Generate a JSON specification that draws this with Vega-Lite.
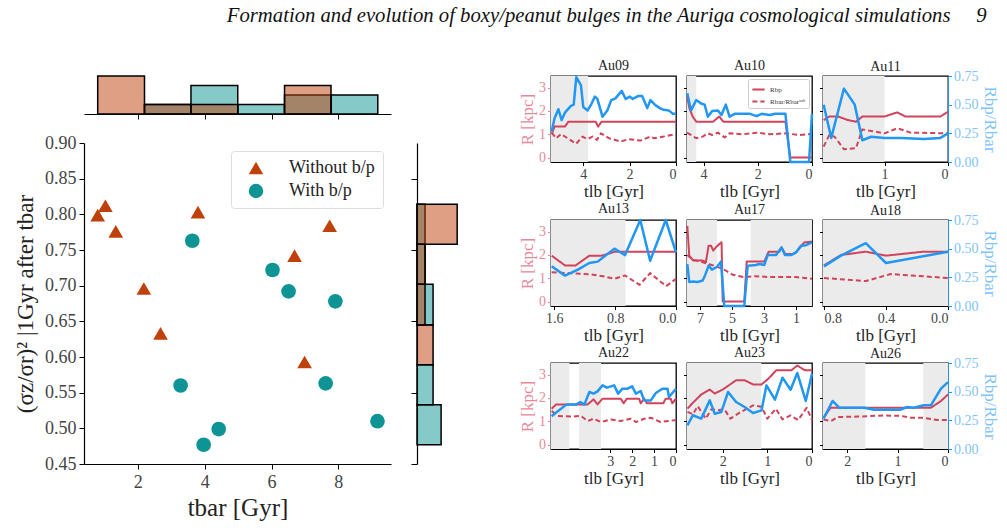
{
  "$schema": "https://vega.github.io/schema/vega-lite/v6.json",
  "padding": {"left": 14, "top": 4, "right": 5, "bottom": 5},
  "title": {
    "text": "Formation and evolution of boxy/peanut bulges in the Auriga cosmological simulations\u00a0\u00a0\u00a0\u00a0\u00a09",
    "font": "'Liberation Serif', 'Times New Roman', 'DejaVu Serif', serif",
    "fontStyle": "italic",
    "fontSize": 20.7,
    "fontWeight": "normal",
    "color": "#111",
    "anchor": "end",
    "dx": -12,
    "offset": 32
  },
  "datasets": {
    "pts": [
      {"t": 0.80, "s": 0.799, "g": "Without b/p"},
      {"t": 1.03, "s": 0.812, "g": "Without b/p"},
      {"t": 1.34, "s": 0.776, "g": "Without b/p"},
      {"t": 2.18, "s": 0.696, "g": "Without b/p"},
      {"t": 2.68, "s": 0.633, "g": "Without b/p"},
      {"t": 3.80, "s": 0.803, "g": "Without b/p"},
      {"t": 6.69, "s": 0.742, "g": "Without b/p"},
      {"t": 7.74, "s": 0.784, "g": "Without b/p"},
      {"t": 6.99, "s": 0.593, "g": "Without b/p"},
      {"t": 3.63, "s": 0.763, "g": "With b/p"},
      {"t": 6.03, "s": 0.722, "g": "With b/p"},
      {"t": 6.51, "s": 0.692, "g": "With b/p"},
      {"t": 7.91, "s": 0.678, "g": "With b/p"},
      {"t": 3.28, "s": 0.560, "g": "With b/p"},
      {"t": 7.62, "s": 0.563, "g": "With b/p"},
      {"t": 3.97, "s": 0.477, "g": "With b/p"},
      {"t": 4.42, "s": 0.499, "g": "With b/p"},
      {"t": 9.17, "s": 0.510, "g": "With b/p"}
    ],
    "hx": [
      {"g": "With b/p", "b0": 2.2, "b1": 3.59, "n": 1},
      {"g": "With b/p", "b0": 3.59, "b1": 4.99, "n": 3},
      {"g": "With b/p", "b0": 4.99, "b1": 6.39, "n": 1},
      {"g": "With b/p", "b0": 6.39, "b1": 7.78, "n": 2},
      {"g": "With b/p", "b0": 7.78, "b1": 9.18, "n": 2},
      {"g": "Without b/p", "b0": 0.8, "b1": 2.2, "n": 4},
      {"g": "Without b/p", "b0": 2.2, "b1": 3.59, "n": 1},
      {"g": "Without b/p", "b0": 3.59, "b1": 4.99, "n": 1},
      {"g": "Without b/p", "b0": 6.39, "b1": 7.78, "n": 3}
    ],
    "hy": [
      {"g": "With b/p", "b0": 0.477, "b1": 0.533, "n": 3},
      {"g": "With b/p", "b0": 0.533, "b1": 0.589, "n": 2},
      {"g": "With b/p", "b0": 0.645, "b1": 0.702, "n": 2},
      {"g": "With b/p", "b0": 0.702, "b1": 0.758, "n": 1},
      {"g": "With b/p", "b0": 0.758, "b1": 0.814, "n": 1},
      {"g": "Without b/p", "b0": 0.589, "b1": 0.645, "n": 2},
      {"g": "Without b/p", "b0": 0.645, "b1": 0.702, "n": 1},
      {"g": "Without b/p", "b0": 0.702, "b1": 0.758, "n": 1},
      {"g": "Without b/p", "b0": 0.758, "b1": 0.814, "n": 5}
    ],
    "sh": [
      {"p": "Au09", "a": 3.79, "b": 5.39},
      {"p": "Au10", "a": 4.27, "b": 4.61},
      {"p": "Au11", "a": 1.0, "b": 1.97},
      {"p": "Au13", "a": 0.664, "b": 1.644},
      {"p": "Au17", "a": 5.94, "b": 7.81},
      {"p": "Au17", "a": 0, "b": 3.83},
      {"p": "Au18", "a": 0, "b": 0.806},
      {"p": "Au22", "a": 4.86, "b": 5.70},
      {"p": "Au22", "a": 3.42, "b": 4.42},
      {"p": "Au23", "a": 1.135, "b": 2.8},
      {"p": "Au26", "a": 1.64, "b": 2.48},
      {"p": "Au26", "a": 0, "b": 0.49}
    ],
    "ev": [
      {"p": "Au09", "s": "Rbp", "t": 5.36, "y": 1.0},
      {"p": "Au09", "s": "Rbp", "t": 5.24, "y": 1.33},
      {"p": "Au09", "s": "Rbp", "t": 4.79, "y": 1.33},
      {"p": "Au09", "s": "Rbp", "t": 4.64, "y": 1.54},
      {"p": "Au09", "s": "Rbp", "t": 3.46, "y": 1.54},
      {"p": "Au09", "s": "Rbp", "t": 3.36, "y": 1.33},
      {"p": "Au09", "s": "Rbp", "t": 3.21, "y": 1.54},
      {"p": "Au09", "s": "Rbp", "t": 0, "y": 1.54},
      {"p": "Au09", "s": "Rbar/Rbarˢᵘᵇ", "t": 5.36, "y": 1.07},
      {"p": "Au09", "s": "Rbar/Rbarˢᵘᵇ", "t": 5.17, "y": 0.83},
      {"p": "Au09", "s": "Rbar/Rbarˢᵘᵇ", "t": 4.96, "y": 1.01},
      {"p": "Au09", "s": "Rbar/Rbarˢᵘᵇ", "t": 4.67, "y": 0.83},
      {"p": "Au09", "s": "Rbar/Rbarˢᵘᵇ", "t": 4.31, "y": 0.59},
      {"p": "Au09", "s": "Rbar/Rbarˢᵘᵇ", "t": 4.03, "y": 0.9},
      {"p": "Au09", "s": "Rbar/Rbarˢᵘᵇ", "t": 3.81, "y": 0.79},
      {"p": "Au09", "s": "Rbar/Rbarˢᵘᵇ", "t": 3.60, "y": 0.9},
      {"p": "Au09", "s": "Rbar/Rbarˢᵘᵇ", "t": 3.41, "y": 0.76},
      {"p": "Au09", "s": "Rbar/Rbarˢᵘᵇ", "t": 3.24, "y": 1.04},
      {"p": "Au09", "s": "Rbar/Rbarˢᵘᵇ", "t": 2.89, "y": 0.83},
      {"p": "Au09", "s": "Rbar/Rbarˢᵘᵇ", "t": 2.39, "y": 0.69},
      {"p": "Au09", "s": "Rbar/Rbarˢᵘᵇ", "t": 2.03, "y": 0.79},
      {"p": "Au09", "s": "Rbar/Rbarˢᵘᵇ", "t": 1.53, "y": 0.73},
      {"p": "Au09", "s": "Rbar/Rbarˢᵘᵇ", "t": 1.10, "y": 0.9},
      {"p": "Au09", "s": "Rbar/Rbarˢᵘᵇ", "t": 0.96, "y": 0.83},
      {"p": "Au09", "s": "Rbar/Rbarˢᵘᵇ", "t": 0.53, "y": 0.9},
      {"p": "Au09", "s": "Rbar/Rbarˢᵘᵇ", "t": 0, "y": 1.01},
      {"p": "Au09", "s": "ratio", "t": 5.36, "y": 0.265},
      {"p": "Au09", "s": "ratio", "t": 5.24, "y": 0.38},
      {"p": "Au09", "s": "ratio", "t": 5.07, "y": 0.46},
      {"p": "Au09", "s": "ratio", "t": 4.93, "y": 0.366},
      {"p": "Au09", "s": "ratio", "t": 4.79, "y": 0.43},
      {"p": "Au09", "s": "ratio", "t": 4.53, "y": 0.49},
      {"p": "Au09", "s": "ratio", "t": 4.41, "y": 0.50},
      {"p": "Au09", "s": "ratio", "t": 4.30, "y": 0.74},
      {"p": "Au09", "s": "ratio", "t": 4.10, "y": 0.67},
      {"p": "Au09", "s": "ratio", "t": 4.00, "y": 0.48},
      {"p": "Au09", "s": "ratio", "t": 3.81, "y": 0.45},
      {"p": "Au09", "s": "ratio", "t": 3.64, "y": 0.51},
      {"p": "Au09", "s": "ratio", "t": 3.50, "y": 0.57},
      {"p": "Au09", "s": "ratio", "t": 3.39, "y": 0.55},
      {"p": "Au09", "s": "ratio", "t": 3.17, "y": 0.395},
      {"p": "Au09", "s": "ratio", "t": 2.96, "y": 0.45},
      {"p": "Au09", "s": "ratio", "t": 2.79, "y": 0.54},
      {"p": "Au09", "s": "ratio", "t": 2.61, "y": 0.555},
      {"p": "Au09", "s": "ratio", "t": 2.34, "y": 0.62},
      {"p": "Au09", "s": "ratio", "t": 2.17, "y": 0.55},
      {"p": "Au09", "s": "ratio", "t": 1.99, "y": 0.57},
      {"p": "Au09", "s": "ratio", "t": 1.87, "y": 0.55},
      {"p": "Au09", "s": "ratio", "t": 1.64, "y": 0.575},
      {"p": "Au09", "s": "ratio", "t": 1.46, "y": 0.575},
      {"p": "Au09", "s": "ratio", "t": 1.24, "y": 0.47},
      {"p": "Au09", "s": "ratio", "t": 1.10, "y": 0.54},
      {"p": "Au09", "s": "ratio", "t": 0.91, "y": 0.50},
      {"p": "Au09", "s": "ratio", "t": 0.70, "y": 0.47},
      {"p": "Au09", "s": "ratio", "t": 0.53, "y": 0.455},
      {"p": "Au09", "s": "ratio", "t": 0.31, "y": 0.45},
      {"p": "Au09", "s": "ratio", "t": 0.13, "y": 0.42},
      {"p": "Au09", "s": "ratio", "t": 0, "y": 0.42},

      {"p": "Au10", "s": "Rbp", "t": 4.61, "y": 2.64},
      {"p": "Au10", "s": "Rbp", "t": 4.52, "y": 2.11},
      {"p": "Au10", "s": "Rbp", "t": 4.40, "y": 1.76},
      {"p": "Au10", "s": "Rbp", "t": 4.27, "y": 1.54},
      {"p": "Au10", "s": "Rbp", "t": 3.65, "y": 1.54},
      {"p": "Au10", "s": "Rbp", "t": 3.42, "y": 1.76},
      {"p": "Au10", "s": "Rbp", "t": 3.27, "y": 1.54},
      {"p": "Au10", "s": "Rbp", "t": 0.98, "y": 1.54},
      {"p": "Au10", "s": "Rbp", "t": 0.80, "y": 0},
      {"p": "Au10", "s": "Rbp", "t": 0, "y": 0},
      {"p": "Au10", "s": "Rbar/Rbarˢᵘᵇ", "t": 4.61, "y": 1.07},
      {"p": "Au10", "s": "Rbar/Rbarˢᵘᵇ", "t": 4.27, "y": 0.83},
      {"p": "Au10", "s": "Rbar/Rbarˢᵘᵇ", "t": 4.03, "y": 0.9},
      {"p": "Au10", "s": "Rbar/Rbarˢᵘᵇ", "t": 3.84, "y": 1.04},
      {"p": "Au10", "s": "Rbar/Rbarˢᵘᵇ", "t": 3.68, "y": 0.97},
      {"p": "Au10", "s": "Rbar/Rbarˢᵘᵇ", "t": 3.47, "y": 1.07},
      {"p": "Au10", "s": "Rbar/Rbarˢᵘᵇ", "t": 3.22, "y": 0.86},
      {"p": "Au10", "s": "Rbar/Rbarˢᵘᵇ", "t": 3.04, "y": 1.04},
      {"p": "Au10", "s": "Rbar/Rbarˢᵘᵇ", "t": 2.54, "y": 1.0},
      {"p": "Au10", "s": "Rbar/Rbarˢᵘᵇ", "t": 2.04, "y": 1.07},
      {"p": "Au10", "s": "Rbar/Rbarˢᵘᵇ", "t": 1.55, "y": 1.0},
      {"p": "Au10", "s": "Rbar/Rbarˢᵘᵇ", "t": 1.0, "y": 1.04},
      {"p": "Au10", "s": "Rbar/Rbarˢᵘᵇ", "t": 0.45, "y": 0.97},
      {"p": "Au10", "s": "Rbar/Rbarˢᵘᵇ", "t": 0, "y": 1.01},
      {"p": "Au10", "s": "ratio", "t": 4.60, "y": 0.60},
      {"p": "Au10", "s": "ratio", "t": 4.46, "y": 0.45},
      {"p": "Au10", "s": "ratio", "t": 4.27, "y": 0.54},
      {"p": "Au10", "s": "ratio", "t": 4.09, "y": 0.51},
      {"p": "Au10", "s": "ratio", "t": 3.96, "y": 0.50},
      {"p": "Au10", "s": "ratio", "t": 3.84, "y": 0.395},
      {"p": "Au10", "s": "ratio", "t": 3.68, "y": 0.445},
      {"p": "Au10", "s": "ratio", "t": 3.47, "y": 0.45},
      {"p": "Au10", "s": "ratio", "t": 3.34, "y": 0.41},
      {"p": "Au10", "s": "ratio", "t": 3.18, "y": 0.50},
      {"p": "Au10", "s": "ratio", "t": 3.04, "y": 0.395},
      {"p": "Au10", "s": "ratio", "t": 2.85, "y": 0.42},
      {"p": "Au10", "s": "ratio", "t": 2.29, "y": 0.42},
      {"p": "Au10", "s": "ratio", "t": 2.04, "y": 0.40},
      {"p": "Au10", "s": "ratio", "t": 1.86, "y": 0.42},
      {"p": "Au10", "s": "ratio", "t": 1.55, "y": 0.41},
      {"p": "Au10", "s": "ratio", "t": 1.36, "y": 0.42},
      {"p": "Au10", "s": "ratio", "t": 0.98, "y": 0.42},
      {"p": "Au10", "s": "ratio", "t": 0.80, "y": 0},
      {"p": "Au10", "s": "ratio", "t": 0.11, "y": 0},
      {"p": "Au10", "s": "ratio", "t": 0, "y": 0.42},

      {"p": "Au11", "s": "Rbp", "t": 1.96, "y": 1.61},
      {"p": "Au11", "s": "Rbp", "t": 1.87, "y": 1.76},
      {"p": "Au11", "s": "Rbp", "t": 1.73, "y": 1.76},
      {"p": "Au11", "s": "Rbp", "t": 1.58, "y": 1.61},
      {"p": "Au11", "s": "Rbp", "t": 1.45, "y": 1.54},
      {"p": "Au11", "s": "Rbp", "t": 1.35, "y": 1.76},
      {"p": "Au11", "s": "Rbp", "t": 1.0, "y": 1.76},
      {"p": "Au11", "s": "Rbp", "t": 0.80, "y": 1.94},
      {"p": "Au11", "s": "Rbp", "t": 0.67, "y": 1.76},
      {"p": "Au11", "s": "Rbp", "t": 0.12, "y": 1.76},
      {"p": "Au11", "s": "Rbp", "t": 0, "y": 1.97},
      {"p": "Au11", "s": "Rbar/Rbarˢᵘᵇ", "t": 1.96, "y": 0.47},
      {"p": "Au11", "s": "Rbar/Rbarˢᵘᵇ", "t": 1.87, "y": 0.97},
      {"p": "Au11", "s": "Rbar/Rbarˢᵘᵇ", "t": 1.79, "y": 0.9},
      {"p": "Au11", "s": "Rbar/Rbarˢᵘᵇ", "t": 1.64, "y": 0.36},
      {"p": "Au11", "s": "Rbar/Rbarˢᵘᵇ", "t": 1.45, "y": 0.4},
      {"p": "Au11", "s": "Rbar/Rbarˢᵘᵇ", "t": 1.35, "y": 1.21},
      {"p": "Au11", "s": "Rbar/Rbarˢᵘᵇ", "t": 1.0, "y": 1.04},
      {"p": "Au11", "s": "Rbar/Rbarˢᵘᵇ", "t": 0.80, "y": 1.26},
      {"p": "Au11", "s": "Rbar/Rbarˢᵘᵇ", "t": 0.59, "y": 1.07},
      {"p": "Au11", "s": "Rbar/Rbarˢᵘᵇ", "t": 0, "y": 1.04},
      {"p": "Au11", "s": "ratio", "t": 1.96, "y": 0.50},
      {"p": "Au11", "s": "ratio", "t": 1.84, "y": 0.21},
      {"p": "Au11", "s": "ratio", "t": 1.64, "y": 0.64},
      {"p": "Au11", "s": "ratio", "t": 1.47, "y": 0.50},
      {"p": "Au11", "s": "ratio", "t": 1.35, "y": 0.19},
      {"p": "Au11", "s": "ratio", "t": 1.21, "y": 0.22},
      {"p": "Au11", "s": "ratio", "t": 1.0, "y": 0.21},
      {"p": "Au11", "s": "ratio", "t": 0.74, "y": 0.21},
      {"p": "Au11", "s": "ratio", "t": 0.38, "y": 0.20},
      {"p": "Au11", "s": "ratio", "t": 0.12, "y": 0.21},
      {"p": "Au11", "s": "ratio", "t": 0, "y": 0.25},

      {"p": "Au13", "s": "Rbp", "t": 1.635, "y": 1.97},
      {"p": "Au13", "s": "Rbp", "t": 1.46, "y": 1.55},
      {"p": "Au13", "s": "Rbp", "t": 1.32, "y": 1.55},
      {"p": "Au13", "s": "Rbp", "t": 1.14, "y": 1.97},
      {"p": "Au13", "s": "Rbp", "t": 0.98, "y": 1.97},
      {"p": "Au13", "s": "Rbp", "t": 0.80, "y": 2.14},
      {"p": "Au13", "s": "Rbp", "t": 0, "y": 2.14},
      {"p": "Au13", "s": "Rbar/Rbarˢᵘᵇ", "t": 1.635, "y": 1.26},
      {"p": "Au13", "s": "Rbar/Rbarˢᵘᵇ", "t": 1.46, "y": 1.23},
      {"p": "Au13", "s": "Rbar/Rbarˢᵘᵇ", "t": 1.11, "y": 1.16},
      {"p": "Au13", "s": "Rbar/Rbarˢᵘᵇ", "t": 0.96, "y": 1.09},
      {"p": "Au13", "s": "Rbar/Rbarˢᵘᵇ", "t": 0.81, "y": 0.98},
      {"p": "Au13", "s": "Rbar/Rbarˢᵘᵇ", "t": 0.67, "y": 1.12},
      {"p": "Au13", "s": "Rbar/Rbarˢᵘᵇ", "t": 0.48, "y": 0.72},
      {"p": "Au13", "s": "Rbar/Rbarˢᵘᵇ", "t": 0.34, "y": 1.22},
      {"p": "Au13", "s": "Rbar/Rbarˢᵘᵇ", "t": 0.13, "y": 0.66},
      {"p": "Au13", "s": "Rbar/Rbarˢᵘᵇ", "t": 0, "y": 0.98},
      {"p": "Au13", "s": "ratio", "t": 1.635, "y": 0.346},
      {"p": "Au13", "s": "ratio", "t": 1.46, "y": 0.265},
      {"p": "Au13", "s": "ratio", "t": 1.29, "y": 0.317},
      {"p": "Au13", "s": "ratio", "t": 1.14, "y": 0.375},
      {"p": "Au13", "s": "ratio", "t": 1.03, "y": 0.387},
      {"p": "Au13", "s": "ratio", "t": 0.81, "y": 0.50},
      {"p": "Au13", "s": "ratio", "t": 0.67, "y": 0.444},
      {"p": "Au13", "s": "ratio", "t": 0.47, "y": 0.75},
      {"p": "Au13", "s": "ratio", "t": 0.34, "y": 0.395},
      {"p": "Au13", "s": "ratio", "t": 0.135, "y": 0.75},
      {"p": "Au13", "s": "ratio", "t": 0, "y": 0.467},

      {"p": "Au17", "s": "Rbp", "t": 7.79, "y": 3.25},
      {"p": "Au17", "s": "Rbp", "t": 7.67, "y": 1.97},
      {"p": "Au17", "s": "Rbp", "t": 7.42, "y": 1.76},
      {"p": "Au17", "s": "Rbp", "t": 6.83, "y": 1.76},
      {"p": "Au17", "s": "Rbp", "t": 6.63, "y": 1.69},
      {"p": "Au17", "s": "Rbp", "t": 6.46, "y": 2.4},
      {"p": "Au17", "s": "Rbp", "t": 6.31, "y": 2.4},
      {"p": "Au17", "s": "Rbp", "t": 6.17, "y": 2.19},
      {"p": "Au17", "s": "Rbp", "t": 6.0, "y": 2.33},
      {"p": "Au17", "s": "Rbp", "t": 5.79, "y": 2.47},
      {"p": "Au17", "s": "Rbp", "t": 5.65, "y": 2.54},
      {"p": "Au17", "s": "Rbp", "t": 5.58, "y": 0},
      {"p": "Au17", "s": "Rbp", "t": 4.23, "y": 0},
      {"p": "Au17", "s": "Rbp", "t": 4.08, "y": 1.72},
      {"p": "Au17", "s": "Rbp", "t": 2.98, "y": 1.72},
      {"p": "Au17", "s": "Rbp", "t": 2.71, "y": 2.14},
      {"p": "Au17", "s": "Rbp", "t": 2.04, "y": 2.14},
      {"p": "Au17", "s": "Rbp", "t": 1.90, "y": 2.33},
      {"p": "Au17", "s": "Rbp", "t": 1.67, "y": 2.04},
      {"p": "Au17", "s": "Rbp", "t": 1.17, "y": 2.04},
      {"p": "Au17", "s": "Rbp", "t": 0.96, "y": 2.14},
      {"p": "Au17", "s": "Rbp", "t": 0.48, "y": 2.54},
      {"p": "Au17", "s": "Rbp", "t": 0, "y": 2.57},
      {"p": "Au17", "s": "Rbar/Rbarˢᵘᵇ", "t": 7.79, "y": 2.0},
      {"p": "Au17", "s": "Rbar/Rbarˢᵘᵇ", "t": 7.46, "y": 1.8},
      {"p": "Au17", "s": "Rbar/Rbarˢᵘᵇ", "t": 6.83, "y": 1.69},
      {"p": "Au17", "s": "Rbar/Rbarˢᵘᵇ", "t": 6.31, "y": 1.58},
      {"p": "Au17", "s": "Rbar/Rbarˢᵘᵇ", "t": 5.58, "y": 1.41},
      {"p": "Au17", "s": "Rbar/Rbarˢᵘᵇ", "t": 4.96, "y": 1.15},
      {"p": "Au17", "s": "Rbar/Rbarˢᵘᵇ", "t": 4.23, "y": 1.05},
      {"p": "Au17", "s": "Rbar/Rbarˢᵘᵇ", "t": 3.5, "y": 1.09},
      {"p": "Au17", "s": "Rbar/Rbarˢᵘᵇ", "t": 2.67, "y": 1.05},
      {"p": "Au17", "s": "Rbar/Rbarˢᵘᵇ", "t": 1.83, "y": 1.05},
      {"p": "Au17", "s": "Rbar/Rbarˢᵘᵇ", "t": 1.0, "y": 1.05},
      {"p": "Au17", "s": "Rbar/Rbarˢᵘᵇ", "t": 0, "y": 0.98},
      {"p": "Au17", "s": "ratio", "t": 7.79, "y": 0.366},
      {"p": "Au17", "s": "ratio", "t": 7.67, "y": 0.21},
      {"p": "Au17", "s": "ratio", "t": 7.42, "y": 0.213},
      {"p": "Au17", "s": "ratio", "t": 7.15, "y": 0.21},
      {"p": "Au17", "s": "ratio", "t": 6.83, "y": 0.222},
      {"p": "Au17", "s": "ratio", "t": 6.67, "y": 0.271},
      {"p": "Au17", "s": "ratio", "t": 6.46, "y": 0.352},
      {"p": "Au17", "s": "ratio", "t": 6.25, "y": 0.317},
      {"p": "Au17", "s": "ratio", "t": 5.94, "y": 0.34},
      {"p": "Au17", "s": "ratio", "t": 5.69, "y": 0.387},
      {"p": "Au17", "s": "ratio", "t": 5.48, "y": 0},
      {"p": "Au17", "s": "ratio", "t": 4.23, "y": 0},
      {"p": "Au17", "s": "ratio", "t": 4.02, "y": 0.352},
      {"p": "Au17", "s": "ratio", "t": 3.5, "y": 0.358},
      {"p": "Au17", "s": "ratio", "t": 3.29, "y": 0.366},
      {"p": "Au17", "s": "ratio", "t": 2.98, "y": 0.358},
      {"p": "Au17", "s": "ratio", "t": 2.77, "y": 0.444},
      {"p": "Au17", "s": "ratio", "t": 2.25, "y": 0.444},
      {"p": "Au17", "s": "ratio", "t": 1.9, "y": 0.51},
      {"p": "Au17", "s": "ratio", "t": 1.69, "y": 0.444},
      {"p": "Au17", "s": "ratio", "t": 1.31, "y": 0.444},
      {"p": "Au17", "s": "ratio", "t": 1.0, "y": 0.467},
      {"p": "Au17", "s": "ratio", "t": 0.69, "y": 0.525},
      {"p": "Au17", "s": "ratio", "t": 0.38, "y": 0.53},
      {"p": "Au17", "s": "ratio", "t": 0, "y": 0.554},

      {"p": "Au18", "s": "Rbp", "t": 0.80, "y": 1.55},
      {"p": "Au18", "s": "Rbp", "t": 0.69, "y": 2.0},
      {"p": "Au18", "s": "Rbp", "t": 0.53, "y": 2.14},
      {"p": "Au18", "s": "Rbp", "t": 0.40, "y": 1.97},
      {"p": "Au18", "s": "Rbp", "t": 0.16, "y": 2.14},
      {"p": "Au18", "s": "Rbp", "t": 0, "y": 2.14},
      {"p": "Au18", "s": "Rbar/Rbarˢᵘᵇ", "t": 0.80, "y": 1.01},
      {"p": "Au18", "s": "Rbar/Rbarˢᵘᵇ", "t": 0.53, "y": 0.88},
      {"p": "Au18", "s": "Rbar/Rbarˢᵘᵇ", "t": 0.37, "y": 1.18},
      {"p": "Au18", "s": "Rbar/Rbarˢᵘᵇ", "t": 0, "y": 1.01},
      {"p": "Au18", "s": "ratio", "t": 0.80, "y": 0.346},
      {"p": "Au18", "s": "ratio", "t": 0.69, "y": 0.439},
      {"p": "Au18", "s": "ratio", "t": 0.53, "y": 0.548},
      {"p": "Au18", "s": "ratio", "t": 0.40, "y": 0.375},
      {"p": "Au18", "s": "ratio", "t": 0, "y": 0.473},

      {"p": "Au22", "s": "Rbp", "t": 5.67, "y": 1.54},
      {"p": "Au22", "s": "Rbp", "t": 5.47, "y": 1.72},
      {"p": "Au22", "s": "Rbp", "t": 4.03, "y": 1.72},
      {"p": "Au22", "s": "Rbp", "t": 3.76, "y": 1.94},
      {"p": "Au22", "s": "Rbp", "t": 3.58, "y": 1.72},
      {"p": "Au22", "s": "Rbp", "t": 3.35, "y": 1.97},
      {"p": "Au22", "s": "Rbp", "t": 2.52, "y": 1.97},
      {"p": "Au22", "s": "Rbp", "t": 2.39, "y": 1.77},
      {"p": "Au22", "s": "Rbp", "t": 2.24, "y": 1.97},
      {"p": "Au22", "s": "Rbp", "t": 1.68, "y": 1.97},
      {"p": "Au22", "s": "Rbp", "t": 1.61, "y": 1.77},
      {"p": "Au22", "s": "Rbp", "t": 1.45, "y": 1.97},
      {"p": "Au22", "s": "Rbp", "t": 1.33, "y": 1.77},
      {"p": "Au22", "s": "Rbp", "t": 0.58, "y": 1.77},
      {"p": "Au22", "s": "Rbp", "t": 0.47, "y": 1.97},
      {"p": "Au22", "s": "Rbp", "t": 0.24, "y": 1.97},
      {"p": "Au22", "s": "Rbp", "t": 0.17, "y": 1.77},
      {"p": "Au22", "s": "Rbp", "t": 0, "y": 1.97},
      {"p": "Au22", "s": "Rbar/Rbarˢᵘᵇ", "t": 5.67, "y": 1.44},
      {"p": "Au22", "s": "Rbar/Rbarˢᵘᵇ", "t": 5.39, "y": 1.23},
      {"p": "Au22", "s": "Rbar/Rbarˢᵘᵇ", "t": 4.79, "y": 1.2},
      {"p": "Au22", "s": "Rbar/Rbarˢᵘᵇ", "t": 4.33, "y": 1.23},
      {"p": "Au22", "s": "Rbar/Rbarˢᵘᵇ", "t": 4.03, "y": 1.01},
      {"p": "Au22", "s": "Rbar/Rbarˢᵘᵇ", "t": 3.76, "y": 1.11},
      {"p": "Au22", "s": "Rbar/Rbarˢᵘᵇ", "t": 3.42, "y": 0.97},
      {"p": "Au22", "s": "Rbar/Rbarˢᵘᵇ", "t": 2.97, "y": 1.08},
      {"p": "Au22", "s": "Rbar/Rbarˢᵘᵇ", "t": 2.52, "y": 1.01},
      {"p": "Au22", "s": "Rbar/Rbarˢᵘᵇ", "t": 2.06, "y": 1.11},
      {"p": "Au22", "s": "Rbar/Rbarˢᵘᵇ", "t": 1.83, "y": 0.97},
      {"p": "Au22", "s": "Rbar/Rbarˢᵘᵇ", "t": 1.45, "y": 1.11},
      {"p": "Au22", "s": "Rbar/Rbarˢᵘᵇ", "t": 1.15, "y": 1.15},
      {"p": "Au22", "s": "Rbar/Rbarˢᵘᵇ", "t": 0.70, "y": 0.97},
      {"p": "Au22", "s": "Rbar/Rbarˢᵘᵇ", "t": 0, "y": 1.05},
      {"p": "Au22", "s": "ratio", "t": 5.67, "y": 0.285},
      {"p": "Au22", "s": "ratio", "t": 5.39, "y": 0.33},
      {"p": "Au22", "s": "ratio", "t": 5.0, "y": 0.387},
      {"p": "Au22", "s": "ratio", "t": 4.56, "y": 0.387},
      {"p": "Au22", "s": "ratio", "t": 4.36, "y": 0.41},
      {"p": "Au22", "s": "ratio", "t": 4.18, "y": 0.387},
      {"p": "Au22", "s": "ratio", "t": 3.95, "y": 0.497},
      {"p": "Au22", "s": "ratio", "t": 3.76, "y": 0.483},
      {"p": "Au22", "s": "ratio", "t": 3.58, "y": 0.503},
      {"p": "Au22", "s": "ratio", "t": 3.35, "y": 0.555},
      {"p": "Au22", "s": "ratio", "t": 3.15, "y": 0.535},
      {"p": "Au22", "s": "ratio", "t": 2.82, "y": 0.555},
      {"p": "Au22", "s": "ratio", "t": 2.64, "y": 0.483},
      {"p": "Au22", "s": "ratio", "t": 2.44, "y": 0.526},
      {"p": "Au22", "s": "ratio", "t": 2.21, "y": 0.526},
      {"p": "Au22", "s": "ratio", "t": 2.0, "y": 0.547},
      {"p": "Au22", "s": "ratio", "t": 1.83, "y": 0.483},
      {"p": "Au22", "s": "ratio", "t": 1.61, "y": 0.506},
      {"p": "Au22", "s": "ratio", "t": 1.45, "y": 0.424},
      {"p": "Au22", "s": "ratio", "t": 1.15, "y": 0.424},
      {"p": "Au22", "s": "ratio", "t": 0.92, "y": 0.488},
      {"p": "Au22", "s": "ratio", "t": 0.62, "y": 0.526},
      {"p": "Au22", "s": "ratio", "t": 0.39, "y": 0.526},
      {"p": "Au22", "s": "ratio", "t": 0.32, "y": 0.453},
      {"p": "Au22", "s": "ratio", "t": 0, "y": 0.526},

      {"p": "Au23", "s": "Rbp", "t": 2.79, "y": 1.54},
      {"p": "Au23", "s": "Rbp", "t": 2.67, "y": 1.79},
      {"p": "Au23", "s": "Rbp", "t": 2.48, "y": 2.15},
      {"p": "Au23", "s": "Rbp", "t": 2.29, "y": 2.36},
      {"p": "Au23", "s": "Rbp", "t": 2.18, "y": 2.19},
      {"p": "Au23", "s": "Rbp", "t": 2.0, "y": 2.36},
      {"p": "Au23", "s": "Rbp", "t": 1.70, "y": 2.76},
      {"p": "Au23", "s": "Rbp", "t": 1.51, "y": 2.76},
      {"p": "Au23", "s": "Rbp", "t": 1.32, "y": 2.58},
      {"p": "Au23", "s": "Rbp", "t": 1.13, "y": 2.58},
      {"p": "Au23", "s": "Rbp", "t": 0.98, "y": 2.82},
      {"p": "Au23", "s": "Rbp", "t": 0.80, "y": 3.19},
      {"p": "Au23", "s": "Rbp", "t": 0.46, "y": 3.19},
      {"p": "Au23", "s": "Rbp", "t": 0.33, "y": 3.39},
      {"p": "Au23", "s": "Rbp", "t": 0.16, "y": 3.19},
      {"p": "Au23", "s": "Rbp", "t": 0, "y": 3.19},
      {"p": "Au23", "s": "Rbar/Rbarˢᵘᵇ", "t": 2.79, "y": 1.4},
      {"p": "Au23", "s": "Rbar/Rbarˢᵘᵇ", "t": 2.67, "y": 1.3},
      {"p": "Au23", "s": "Rbar/Rbarˢᵘᵇ", "t": 2.56, "y": 1.65},
      {"p": "Au23", "s": "Rbar/Rbarˢᵘᵇ", "t": 2.38, "y": 1.11},
      {"p": "Au23", "s": "Rbar/Rbarˢᵘᵇ", "t": 2.26, "y": 1.51},
      {"p": "Au23", "s": "Rbar/Rbarˢᵘᵇ", "t": 2.08, "y": 1.48},
      {"p": "Au23", "s": "Rbar/Rbarˢᵘᵇ", "t": 1.96, "y": 1.51},
      {"p": "Au23", "s": "Rbar/Rbarˢᵘᵇ", "t": 1.83, "y": 1.11},
      {"p": "Au23", "s": "Rbar/Rbarˢᵘᵇ", "t": 1.62, "y": 1.37},
      {"p": "Au23", "s": "Rbar/Rbarˢᵘᵇ", "t": 1.32, "y": 1.68},
      {"p": "Au23", "s": "Rbar/Rbarˢᵘᵇ", "t": 1.13, "y": 1.62},
      {"p": "Au23", "s": "Rbar/Rbarˢᵘᵇ", "t": 1.0, "y": 1.11},
      {"p": "Au23", "s": "Rbar/Rbarˢᵘᵇ", "t": 0.81, "y": 1.54},
      {"p": "Au23", "s": "Rbar/Rbarˢᵘᵇ", "t": 0.66, "y": 1.08},
      {"p": "Au23", "s": "Rbar/Rbarˢᵘᵇ", "t": 0.48, "y": 1.25},
      {"p": "Au23", "s": "Rbar/Rbarˢᵘᵇ", "t": 0.31, "y": 1.05},
      {"p": "Au23", "s": "Rbar/Rbarˢᵘᵇ", "t": 0.12, "y": 1.58},
      {"p": "Au23", "s": "Rbar/Rbarˢᵘᵇ", "t": 0, "y": 1.05},
      {"p": "Au23", "s": "ratio", "t": 2.79, "y": 0.206},
      {"p": "Au23", "s": "ratio", "t": 2.67, "y": 0.294},
      {"p": "Au23", "s": "ratio", "t": 2.48, "y": 0.265},
      {"p": "Au23", "s": "ratio", "t": 2.29, "y": 0.424},
      {"p": "Au23", "s": "ratio", "t": 2.18, "y": 0.308},
      {"p": "Au23", "s": "ratio", "t": 2.03, "y": 0.323},
      {"p": "Au23", "s": "ratio", "t": 1.88, "y": 0.497},
      {"p": "Au23", "s": "ratio", "t": 1.70, "y": 0.41},
      {"p": "Au23", "s": "ratio", "t": 1.51, "y": 0.366},
      {"p": "Au23", "s": "ratio", "t": 1.32, "y": 0.314},
      {"p": "Au23", "s": "ratio", "t": 1.13, "y": 0.337},
      {"p": "Au23", "s": "ratio", "t": 1.02, "y": 0.555},
      {"p": "Au23", "s": "ratio", "t": 0.83, "y": 0.43},
      {"p": "Au23", "s": "ratio", "t": 0.66, "y": 0.622},
      {"p": "Au23", "s": "ratio", "t": 0.48, "y": 0.517},
      {"p": "Au23", "s": "ratio", "t": 0.33, "y": 0.663},
      {"p": "Au23", "s": "ratio", "t": 0.14, "y": 0.419},
      {"p": "Au23", "s": "ratio", "t": 0, "y": 0.657},

      {"p": "Au26", "s": "Rbp", "t": 2.47, "y": 1.15},
      {"p": "Au26", "s": "Rbp", "t": 2.33, "y": 1.58},
      {"p": "Au26", "s": "Rbp", "t": 0.34, "y": 1.58},
      {"p": "Au26", "s": "Rbp", "t": 0.14, "y": 1.87},
      {"p": "Au26", "s": "Rbp", "t": 0, "y": 2.15},
      {"p": "Au26", "s": "Rbar/Rbarˢᵘᵇ", "t": 2.47, "y": 1.08},
      {"p": "Au26", "s": "Rbar/Rbarˢᵘᵇ", "t": 2.32, "y": 1.01},
      {"p": "Au26", "s": "Rbar/Rbarˢᵘᵇ", "t": 2.19, "y": 1.18},
      {"p": "Au26", "s": "Rbar/Rbarˢᵘᵇ", "t": 1.79, "y": 1.2},
      {"p": "Au26", "s": "Rbar/Rbarˢᵘᵇ", "t": 1.26, "y": 1.25},
      {"p": "Au26", "s": "Rbar/Rbarˢᵘᵇ", "t": 0.93, "y": 1.23},
      {"p": "Au26", "s": "Rbar/Rbarˢᵘᵇ", "t": 0.74, "y": 1.15},
      {"p": "Au26", "s": "Rbar/Rbarˢᵘᵇ", "t": 0.48, "y": 1.15},
      {"p": "Au26", "s": "Rbar/Rbarˢᵘᵇ", "t": 0.21, "y": 1.05},
      {"p": "Au26", "s": "Rbar/Rbarˢᵘᵇ", "t": 0, "y": 1.05},
      {"p": "Au26", "s": "ratio", "t": 2.47, "y": 0.265},
      {"p": "Au26", "s": "ratio", "t": 2.29, "y": 0.419},
      {"p": "Au26", "s": "ratio", "t": 2.16, "y": 0.36},
      {"p": "Au26", "s": "ratio", "t": 1.66, "y": 0.36},
      {"p": "Au26", "s": "ratio", "t": 1.47, "y": 0.343},
      {"p": "Au26", "s": "ratio", "t": 0.94, "y": 0.343},
      {"p": "Au26", "s": "ratio", "t": 0.81, "y": 0.366},
      {"p": "Au26", "s": "ratio", "t": 0.68, "y": 0.36},
      {"p": "Au26", "s": "ratio", "t": 0.48, "y": 0.381},
      {"p": "Au26", "s": "ratio", "t": 0.34, "y": 0.381},
      {"p": "Au26", "s": "ratio", "t": 0.14, "y": 0.526},
      {"p": "Au26", "s": "ratio", "t": 0, "y": 0.584}
    ]
  },
  "spacing": 55,
  "hconcat": [
    {
      "spacing": 14,
      "vconcat": [
        {
          "width": 307,
          "height": 38,
          "view": {"stroke": null},
          "data": {"name": "hx"},
          "layer": [
            {
              "transform": [{"filter": "datum.g === 'With b/p'"}],
              "mark": {"type": "rect", "fill": "#0e9494", "fillOpacity": 0.5, "stroke": "black", "strokeWidth": 1.5, "clip": false},
              "encoding": {
                "x": {"field": "b0", "type": "quantitative", "scale": {"domain": [0.39, 9.575], "nice": false, "zero": false},
                      "axis": {"values": [2, 4, 6, 8], "labels": false, "title": null, "tickSize": 5, "domainWidth": 1.2}},
                "x2": {"field": "b1"},
                "y": {"field": "n", "type": "quantitative", "scale": {"domain": [0, 4.0], "nice": false}, "axis": null},
                "y2": {"datum": 0}
              }
            },
            {
              "transform": [{"filter": "datum.g === 'Without b/p'"}],
              "mark": {"type": "rect", "fill": "#c0400a", "fillOpacity": 0.5, "stroke": "black", "strokeWidth": 1.5, "clip": false},
              "encoding": {
                "x": {"field": "b0", "type": "quantitative"},
                "x2": {"field": "b1"},
                "y": {"field": "n", "type": "quantitative"},
                "y2": {"datum": 0}
              }
            }
          ]
        },
        {
          "spacing": 19,
          "resolve": {"scale": {"color": "independent", "shape": "independent"}},
          "hconcat": [
            {
              "width": 307,
              "height": 321,
              "view": {"stroke": null},
              "data": {"name": "pts"},
              "mark": {"type": "point", "filled": true, "opacity": 1, "size": 215},
              "encoding": {
                "x": {"field": "t", "type": "quantitative", "scale": {"domain": [0.39, 9.575], "nice": false, "zero": false},
                      "axis": {"values": [2, 4, 6, 8], "title": "tbar [Gyr]", "titleFontSize": 25, "labelFontSize": 18, "tickSize": 5, "labelPadding": 4, "titlePadding": 4, "domainWidth": 1.2}},
                "y": {"field": "s", "type": "quantitative", "scale": {"domain": [0.45, 0.9], "nice": false, "zero": false},
                      "axis": {"values": [0.45, 0.5, 0.55, 0.6, 0.65, 0.7, 0.75, 0.8, 0.85, 0.9], "format": ".2f", "title": "(σz/σr)² |1Gyr after tbar", "titleFontSize": 23, "labelFontSize": 18, "tickSize": 5, "labelPadding": 3, "titlePadding": 7, "domainWidth": 1.2}},
                "color": {"field": "g", "type": "nominal", "scale": {"domain": ["Without b/p", "With b/p"], "range": ["#c0400a", "#0e9494"]},
                          "legend": {"orient": "top-right", "title": null, "labelFontSize": 18, "labelColor": "#222", "symbolSize": 210, "symbolOffset": 8, "strokeColor": "#dddddd", "fillColor": "white", "cornerRadius": 3, "padding": 8, "offset": 8, "rowPadding": 5, "labelOffset": 24}},
                "shape": {"field": "g", "type": "nominal", "scale": {"domain": ["Without b/p", "With b/p"], "range": ["triangle-up", "circle"]}}
              }
            },
            {
              "width": 45,
              "height": 321,
              "view": {"stroke": null},
              "data": {"name": "hy"},
              "layer": [
                {
                  "transform": [{"filter": "datum.g === 'With b/p'"}],
                  "mark": {"type": "rect", "fill": "#0e9494", "fillOpacity": 0.5, "stroke": "black", "strokeWidth": 1.5},
                  "encoding": {
                    "y": {"field": "b0", "type": "quantitative", "scale": {"domain": [0.45, 0.9], "nice": false, "zero": false},
                          "axis": {"values": [0.45, 0.5, 0.55, 0.6, 0.65, 0.7, 0.75, 0.8, 0.85, 0.9], "labels": false, "title": null, "tickSize": 6, "domainWidth": 1.2}},
                    "y2": {"field": "b1"},
                    "x": {"field": "n", "type": "quantitative", "scale": {"domain": [0, 5.6], "nice": false}, "axis": null},
                    "x2": {"datum": 0}
                  }
                },
                {
                  "transform": [{"filter": "datum.g === 'Without b/p'"}],
                  "mark": {"type": "rect", "fill": "#c0400a", "fillOpacity": 0.5, "stroke": "black", "strokeWidth": 1.5},
                  "encoding": {
                    "y": {"field": "b0", "type": "quantitative"},
                    "y2": {"field": "b1"},
                    "x": {"field": "n", "type": "quantitative"},
                    "x2": {"datum": 0}
                  }
                }
              ]
            }
          ]
        }
      ]
    },
    {
      "spacing": 0,
      "vconcat": [
        {
          "spacing": 4,
          "resolve": {"scale": {"strokeDash": "independent"}},
          "hconcat": [
            {
              "title": "Au09", "width": 125, "height": 86,
              "layer": [
                {"data": {"name": "sh"}, "transform": [{"filter": "datum.p === 'Au09'"}], "mark": {"type": "rect", "fill": "#ebebeb"},
                 "encoding": {"x": {"field": "a", "type": "quantitative", "scale": {"domain": [0, 5.39], "reverse": true, "nice": false, "zero": false}, "axis": {"values": [4, 2, 0], "format": "d", "title": "tlb [Gyr]"}}, "x2": {"field": "b"}}},
                {"data": {"name": "ev"}, "transform": [{"filter": "datum.p === 'Au09' && datum.s !== 'ratio'"}], "mark": {"type": "line", "stroke": "#d0435b", "strokeWidth": 2},
                 "encoding": {"x": {"field": "t", "type": "quantitative"},
                   "y": {"field": "y", "type": "quantitative", "scale": {"domain": [-0.19, 3.5], "nice": false, "zero": false}, "axis": {"values": [0, 1, 2, 3], "title": "R [kpc]", "titleColor": "#e8899a", "labelColor": "#e8899a", "tickColor": "#e8899a"}},
                   "strokeDash": {"field": "s", "type": "nominal", "scale": {"domain": ["Rbp", "Rbar/Rbarˢᵘᵇ"], "range": [[1, 0], [5, 3]]}, "legend": null}}},
                {"data": {"name": "ev"}, "transform": [{"filter": "datum.p === 'Au09' && datum.s === 'ratio'"}], "mark": {"type": "line", "stroke": "#2196f3", "strokeWidth": 2.5},
                 "encoding": {"x": {"field": "t", "type": "quantitative"},
                   "y": {"field": "y", "type": "quantitative", "scale": {"domain": [0, 0.75], "nice": false, "zero": false}, "axis": null}}}
              ],
              "resolve": {"scale": {"y": "independent"}}
            },
            {
              "title": "Au10", "width": 125, "height": 86,
              "layer": [
                {"data": {"name": "sh"}, "transform": [{"filter": "datum.p === 'Au10'"}], "mark": {"type": "rect", "fill": "#ebebeb"},
                 "encoding": {"x": {"field": "a", "type": "quantitative", "scale": {"domain": [0, 4.61], "reverse": true, "nice": false, "zero": false}, "axis": {"values": [4, 3, 2, 1, 0], "format": "d", "title": "tlb [Gyr]"}}, "x2": {"field": "b"}}},
                {"data": {"name": "ev"}, "transform": [{"filter": "datum.p === 'Au10' && datum.s !== 'ratio'"}], "mark": {"type": "line", "stroke": "#d0435b", "strokeWidth": 2},
                 "encoding": {"x": {"field": "t", "type": "quantitative"},
                   "y": {"field": "y", "type": "quantitative", "scale": {"domain": [-0.19, 3.5], "nice": false, "zero": false}, "axis": {"values": [0, 1, 2, 3], "labels": false, "title": null}},
                   "strokeDash": {"field": "s", "type": "nominal", "scale": {"domain": ["Rbp", "Rbar/Rbarˢᵘᵇ"], "range": [[1, 0], [5, 3]]},
                     "legend": {"orient": "top-right", "title": null, "symbolType": "stroke", "symbolStrokeWidth": 2, "symbolStrokeColor": "#d0435b", "symbolSize": 150, "labelFontSize": 7, "labelColor": "#333", "padding": 3, "rowPadding": 1, "strokeColor": "#cccccc", "fillColor": "white", "cornerRadius": 2, "offset": 3}}}},
                {"data": {"name": "ev"}, "transform": [{"filter": "datum.p === 'Au10' && datum.s === 'ratio'"}], "mark": {"type": "line", "stroke": "#2196f3", "strokeWidth": 2.5},
                 "encoding": {"x": {"field": "t", "type": "quantitative"},
                   "y": {"field": "y", "type": "quantitative", "scale": {"domain": [0, 0.75], "nice": false, "zero": false}, "axis": null}}}
              ],
              "resolve": {"scale": {"y": "independent"}}
            },
            {
              "title": {"text": "Au11", "offset": -5}, "width": 125, "height": 86,
              "layer": [
                {"data": {"name": "sh"}, "transform": [{"filter": "datum.p === 'Au11'"}], "mark": {"type": "rect", "fill": "#ebebeb"},
                 "encoding": {"x": {"field": "a", "type": "quantitative", "scale": {"domain": [0, 1.97], "reverse": true, "nice": false, "zero": false}, "axis": {"values": [1, 0], "format": "d", "title": "tlb [Gyr]"}}, "x2": {"field": "b"}}},
                {"data": {"name": "ev"}, "transform": [{"filter": "datum.p === 'Au11' && datum.s !== 'ratio'"}], "mark": {"type": "line", "stroke": "#d0435b", "strokeWidth": 2},
                 "encoding": {"x": {"field": "t", "type": "quantitative"},
                   "y": {"field": "y", "type": "quantitative", "scale": {"domain": [-0.19, 3.5], "nice": false, "zero": false}, "axis": {"values": [0, 1, 2, 3], "labels": false, "title": null}},
                   "strokeDash": {"field": "s", "type": "nominal", "scale": {"domain": ["Rbp", "Rbar/Rbarˢᵘᵇ"], "range": [[1, 0], [5, 3]]}, "legend": null}}},
                {"data": {"name": "ev"}, "transform": [{"filter": "datum.p === 'Au11' && datum.s === 'ratio'"}], "mark": {"type": "line", "stroke": "#2196f3", "strokeWidth": 2.5},
                 "encoding": {"x": {"field": "t", "type": "quantitative"},
                   "y": {"field": "y", "type": "quantitative", "scale": {"domain": [0, 0.75], "nice": false, "zero": false},
                     "axis": {"orient": "right", "values": [0, 0.25, 0.5, 0.75], "format": ".2f", "title": "Rbp/Rbar", "titleColor": "#7fc3f9", "labelColor": "#7fc3f9", "tickColor": "#2196f3", "domainColor": "#2196f3"}}}}
              ],
              "resolve": {"scale": {"y": "independent"}}
            }
          ]
        },
        {
          "spacing": 4,
          "hconcat": [
            {
              "title": "Au13", "width": 125, "height": 86,
              "layer": [
                {"data": {"name": "sh"}, "transform": [{"filter": "datum.p === 'Au13'"}], "mark": {"type": "rect", "fill": "#ebebeb"},
                 "encoding": {"x": {"field": "a", "type": "quantitative", "scale": {"domain": [0, 1.644], "reverse": true, "nice": false, "zero": false}, "axis": {"values": [1.6, 0.8, 0], "format": ".1f", "title": "tlb [Gyr]"}}, "x2": {"field": "b"}}},
                {"data": {"name": "ev"}, "transform": [{"filter": "datum.p === 'Au13' && datum.s !== 'ratio'"}], "mark": {"type": "line", "stroke": "#d0435b", "strokeWidth": 2},
                 "encoding": {"x": {"field": "t", "type": "quantitative"},
                   "y": {"field": "y", "type": "quantitative", "scale": {"domain": [-0.19, 3.5], "nice": false, "zero": false}, "axis": {"values": [0, 1, 2, 3], "title": "R [kpc]", "titleColor": "#e8899a", "labelColor": "#e8899a", "tickColor": "#e8899a"}},
                   "strokeDash": {"field": "s", "type": "nominal", "scale": {"domain": ["Rbp", "Rbar/Rbarˢᵘᵇ"], "range": [[1, 0], [5, 3]]}, "legend": null}}},
                {"data": {"name": "ev"}, "transform": [{"filter": "datum.p === 'Au13' && datum.s === 'ratio'"}], "mark": {"type": "line", "stroke": "#2196f3", "strokeWidth": 2.5},
                 "encoding": {"x": {"field": "t", "type": "quantitative"},
                   "y": {"field": "y", "type": "quantitative", "scale": {"domain": [0, 0.75], "nice": false, "zero": false}, "axis": null}}}
              ],
              "resolve": {"scale": {"y": "independent"}}
            },
            {
              "title": "Au17", "width": 125, "height": 86,
              "layer": [
                {"data": {"name": "sh"}, "transform": [{"filter": "datum.p === 'Au17'"}], "mark": {"type": "rect", "fill": "#ebebeb"},
                 "encoding": {"x": {"field": "a", "type": "quantitative", "scale": {"domain": [0, 7.81], "reverse": true, "nice": false, "zero": false}, "axis": {"values": [7, 5, 3, 1], "format": "d", "title": "tlb [Gyr]"}}, "x2": {"field": "b"}}},
                {"data": {"name": "ev"}, "transform": [{"filter": "datum.p === 'Au17' && datum.s !== 'ratio'"}], "mark": {"type": "line", "stroke": "#d0435b", "strokeWidth": 2},
                 "encoding": {"x": {"field": "t", "type": "quantitative"},
                   "y": {"field": "y", "type": "quantitative", "scale": {"domain": [-0.19, 3.5], "nice": false, "zero": false}, "axis": {"values": [0, 1, 2, 3], "labels": false, "title": null}},
                   "strokeDash": {"field": "s", "type": "nominal", "scale": {"domain": ["Rbp", "Rbar/Rbarˢᵘᵇ"], "range": [[1, 0], [5, 3]]}, "legend": null}}},
                {"data": {"name": "ev"}, "transform": [{"filter": "datum.p === 'Au17' && datum.s === 'ratio'"}], "mark": {"type": "line", "stroke": "#2196f3", "strokeWidth": 2.5},
                 "encoding": {"x": {"field": "t", "type": "quantitative"},
                   "y": {"field": "y", "type": "quantitative", "scale": {"domain": [0, 0.75], "nice": false, "zero": false}, "axis": null}}}
              ],
              "resolve": {"scale": {"y": "independent"}}
            },
            {
              "title": {"text": "Au18", "offset": -5}, "width": 125, "height": 86,
              "layer": [
                {"data": {"name": "sh"}, "transform": [{"filter": "datum.p === 'Au18'"}], "mark": {"type": "rect", "fill": "#ebebeb"},
                 "encoding": {"x": {"field": "a", "type": "quantitative", "scale": {"domain": [0, 0.806], "reverse": true, "nice": false, "zero": false}, "axis": {"values": [0.8, 0.4, 0], "format": ".1f", "title": "tlb [Gyr]"}}, "x2": {"field": "b"}}},
                {"data": {"name": "ev"}, "transform": [{"filter": "datum.p === 'Au18' && datum.s !== 'ratio'"}], "mark": {"type": "line", "stroke": "#d0435b", "strokeWidth": 2},
                 "encoding": {"x": {"field": "t", "type": "quantitative"},
                   "y": {"field": "y", "type": "quantitative", "scale": {"domain": [-0.19, 3.5], "nice": false, "zero": false}, "axis": {"values": [0, 1, 2, 3], "labels": false, "title": null}},
                   "strokeDash": {"field": "s", "type": "nominal", "scale": {"domain": ["Rbp", "Rbar/Rbarˢᵘᵇ"], "range": [[1, 0], [5, 3]]}, "legend": null}}},
                {"data": {"name": "ev"}, "transform": [{"filter": "datum.p === 'Au18' && datum.s === 'ratio'"}], "mark": {"type": "line", "stroke": "#2196f3", "strokeWidth": 2.5},
                 "encoding": {"x": {"field": "t", "type": "quantitative"},
                   "y": {"field": "y", "type": "quantitative", "scale": {"domain": [0, 0.75], "nice": false, "zero": false},
                     "axis": {"orient": "right", "values": [0, 0.25, 0.5, 0.75], "format": ".2f", "title": "Rbp/Rbar", "titleColor": "#7fc3f9", "labelColor": "#7fc3f9", "tickColor": "#2196f3", "domainColor": "#2196f3"}}}}
              ],
              "resolve": {"scale": {"y": "independent"}}
            }
          ]
        },
        {
          "spacing": 4,
          "hconcat": [
            {
              "title": "Au22", "width": 125, "height": 86,
              "layer": [
                {"data": {"name": "sh"}, "transform": [{"filter": "datum.p === 'Au22'"}], "mark": {"type": "rect", "fill": "#ebebeb"},
                 "encoding": {"x": {"field": "a", "type": "quantitative", "scale": {"domain": [0, 5.7], "reverse": true, "nice": false, "zero": false}, "axis": {"values": [3, 2, 1, 0], "format": "d", "title": "tlb [Gyr]"}}, "x2": {"field": "b"}}},
                {"data": {"name": "ev"}, "transform": [{"filter": "datum.p === 'Au22' && datum.s !== 'ratio'"}], "mark": {"type": "line", "stroke": "#d0435b", "strokeWidth": 2},
                 "encoding": {"x": {"field": "t", "type": "quantitative"},
                   "y": {"field": "y", "type": "quantitative", "scale": {"domain": [-0.19, 3.5], "nice": false, "zero": false}, "axis": {"values": [0, 1, 2, 3], "title": "R [kpc]", "titleColor": "#e8899a", "labelColor": "#e8899a", "tickColor": "#e8899a"}},
                   "strokeDash": {"field": "s", "type": "nominal", "scale": {"domain": ["Rbp", "Rbar/Rbarˢᵘᵇ"], "range": [[1, 0], [5, 3]]}, "legend": null}}},
                {"data": {"name": "ev"}, "transform": [{"filter": "datum.p === 'Au22' && datum.s === 'ratio'"}], "mark": {"type": "line", "stroke": "#2196f3", "strokeWidth": 2.5},
                 "encoding": {"x": {"field": "t", "type": "quantitative"},
                   "y": {"field": "y", "type": "quantitative", "scale": {"domain": [0, 0.75], "nice": false, "zero": false}, "axis": null}}}
              ],
              "resolve": {"scale": {"y": "independent"}}
            },
            {
              "title": "Au23", "width": 125, "height": 86,
              "layer": [
                {"data": {"name": "sh"}, "transform": [{"filter": "datum.p === 'Au23'"}], "mark": {"type": "rect", "fill": "#ebebeb"},
                 "encoding": {"x": {"field": "a", "type": "quantitative", "scale": {"domain": [0, 2.8], "reverse": true, "nice": false, "zero": false}, "axis": {"values": [2, 1, 0], "format": "d", "title": "tlb [Gyr]"}}, "x2": {"field": "b"}}},
                {"data": {"name": "ev"}, "transform": [{"filter": "datum.p === 'Au23' && datum.s !== 'ratio'"}], "mark": {"type": "line", "stroke": "#d0435b", "strokeWidth": 2},
                 "encoding": {"x": {"field": "t", "type": "quantitative"},
                   "y": {"field": "y", "type": "quantitative", "scale": {"domain": [-0.19, 3.5], "nice": false, "zero": false}, "axis": {"values": [0, 1, 2, 3], "labels": false, "title": null}},
                   "strokeDash": {"field": "s", "type": "nominal", "scale": {"domain": ["Rbp", "Rbar/Rbarˢᵘᵇ"], "range": [[1, 0], [5, 3]]}, "legend": null}}},
                {"data": {"name": "ev"}, "transform": [{"filter": "datum.p === 'Au23' && datum.s === 'ratio'"}], "mark": {"type": "line", "stroke": "#2196f3", "strokeWidth": 2.5},
                 "encoding": {"x": {"field": "t", "type": "quantitative"},
                   "y": {"field": "y", "type": "quantitative", "scale": {"domain": [0, 0.75], "nice": false, "zero": false}, "axis": null}}}
              ],
              "resolve": {"scale": {"y": "independent"}}
            },
            {
              "title": {"text": "Au26", "offset": -5}, "width": 125, "height": 86,
              "layer": [
                {"data": {"name": "sh"}, "transform": [{"filter": "datum.p === 'Au26'"}], "mark": {"type": "rect", "fill": "#ebebeb"},
                 "encoding": {"x": {"field": "a", "type": "quantitative", "scale": {"domain": [0, 2.48], "reverse": true, "nice": false, "zero": false}, "axis": {"values": [2, 1, 0], "format": "d", "title": "tlb [Gyr]"}}, "x2": {"field": "b"}}},
                {"data": {"name": "ev"}, "transform": [{"filter": "datum.p === 'Au26' && datum.s !== 'ratio'"}], "mark": {"type": "line", "stroke": "#d0435b", "strokeWidth": 2},
                 "encoding": {"x": {"field": "t", "type": "quantitative"},
                   "y": {"field": "y", "type": "quantitative", "scale": {"domain": [-0.19, 3.5], "nice": false, "zero": false}, "axis": {"values": [0, 1, 2, 3], "labels": false, "title": null}},
                   "strokeDash": {"field": "s", "type": "nominal", "scale": {"domain": ["Rbp", "Rbar/Rbarˢᵘᵇ"], "range": [[1, 0], [5, 3]]}, "legend": null}}},
                {"data": {"name": "ev"}, "transform": [{"filter": "datum.p === 'Au26' && datum.s === 'ratio'"}], "mark": {"type": "line", "stroke": "#2196f3", "strokeWidth": 2.5},
                 "encoding": {"x": {"field": "t", "type": "quantitative"},
                   "y": {"field": "y", "type": "quantitative", "scale": {"domain": [0, 0.75], "nice": false, "zero": false},
                     "axis": {"orient": "right", "values": [0, 0.25, 0.5, 0.75], "format": ".2f", "title": "Rbp/Rbar", "titleColor": "#7fc3f9", "labelColor": "#7fc3f9", "tickColor": "#2196f3", "domainColor": "#2196f3"}}}}
              ],
              "resolve": {"scale": {"y": "independent"}}
            }
          ]
        }
      ]
    }
  ],
  "config": {
    "font": "'Liberation Serif', 'Times New Roman', 'DejaVu Serif', serif",
    "background": "white",
    "view": {"stroke": "black", "strokeWidth": 1.3},
    "axis": {
      "grid": false,
      "labelFont": "'Liberation Serif', 'Times New Roman', 'DejaVu Serif', serif",
      "titleFont": "'Liberation Serif', 'Times New Roman', 'DejaVu Serif', serif",
      "labelFontSize": 14,
      "titleFontSize": 17,
      "titleFontWeight": "normal",
      "labelColor": "#444",
      "titleColor": "#222",
      "domainColor": "black",
      "tickColor": "black",
      "tickSize": 3.5,
      "labelPadding": 2,
      "titlePadding": 2
    },
    "title": {"font": "'Liberation Serif', 'Times New Roman', 'DejaVu Serif', serif", "fontSize": 14, "fontWeight": "normal", "offset": 3, "color": "#222"},
    "legend": {"labelFont": "'Liberation Serif', 'Times New Roman', 'DejaVu Serif', serif"},
    "line": {"strokeJoin": "round"}
  }
}
